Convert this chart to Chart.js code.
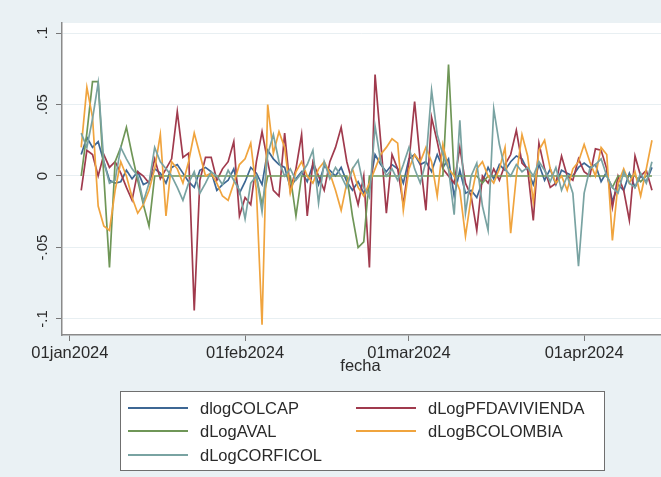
<!DOCTYPE html>
<html>
<head>
<meta charset="utf-8">
<script src="https://cdn.jsdelivr.net/npm/chart.js@4.4.1/dist/chart.umd.min.js"></script>
<style>
html, body { margin: 0; padding: 0; background: #eaf1f4; }
#wrap { width: 661px; height: 477px; position: relative; }
</style>
</head>
<body>
<div id="wrap"><canvas id="c" width="661" height="477"></canvas></div>
<script>
// ---- categories (daily dates, 03jan2024 .. 13apr2024) ----
const fechas = [
 '2024-01-03','2024-01-04','2024-01-05','2024-01-06','2024-01-07','2024-01-08','2024-01-09','2024-01-10','2024-01-11','2024-01-12',
 '2024-01-13','2024-01-14','2024-01-15','2024-01-16','2024-01-17','2024-01-18','2024-01-19','2024-01-20','2024-01-21','2024-01-22',
 '2024-01-23','2024-01-24','2024-01-25','2024-01-26','2024-01-27','2024-01-28','2024-01-29','2024-01-30','2024-01-31','2024-02-01',
 '2024-02-02','2024-02-03','2024-02-04','2024-02-05','2024-02-06','2024-02-07','2024-02-08','2024-02-09','2024-02-10','2024-02-11',
 '2024-02-12','2024-02-13','2024-02-14','2024-02-15','2024-02-16','2024-02-17','2024-02-18','2024-02-19','2024-02-20','2024-02-21',
 '2024-02-22','2024-02-23','2024-02-24','2024-02-25','2024-02-26','2024-02-27','2024-02-28','2024-02-29','2024-03-01','2024-03-02',
 '2024-03-03','2024-03-04','2024-03-05','2024-03-06','2024-03-07','2024-03-08','2024-03-09','2024-03-10','2024-03-11','2024-03-12',
 '2024-03-13','2024-03-14','2024-03-15','2024-03-16','2024-03-17','2024-03-18','2024-03-19','2024-03-20','2024-03-21','2024-03-22',
 '2024-03-23','2024-03-24','2024-03-25','2024-03-26','2024-03-27','2024-03-28','2024-03-29','2024-03-30','2024-03-31','2024-04-01',
 '2024-04-02','2024-04-03','2024-04-04','2024-04-05','2024-04-06','2024-04-07','2024-04-08','2024-04-09','2024-04-10','2024-04-11',
 '2024-04-12','2024-04-13'
];

// ---- series values ----
const dlogCOLCAP = [
 0.015, 0.027, 0.020, 0.024, 0.010, -0.003, -0.005, -0.004, 0.004, -0.002,
 0.003, -0.006, -0.004, 0.005, 0.002, -0.005, 0.006, 0.008, 0.002, -0.004,
 -0.008, 0.004, 0.006, 0.003, -0.010, -0.006, -0.003, 0.005, -0.012, -0.004,
 0.006, 0.002, -0.006, 0.018, 0.012, 0.008, 0.006, -0.008, -0.002, 0.003,
 -0.004, 0.008, -0.006, 0.007, 0.004, 0.000, 0.006, -0.004, -0.010, -0.004,
 -0.012, -0.008, 0.015, 0.008, 0.003, 0.008, 0.005, -0.005, 0.012, 0.015,
 0.008, 0.010, 0.003, 0.015, 0.006, 0.012, -0.014, 0.004, -0.012, -0.010,
 -0.015, -0.004, 0.006, -0.002, 0.008, 0.004, 0.010, 0.014, 0.012, 0.004,
 -0.006, 0.008, -0.003, 0.005, -0.006, 0.004, 0.002, 0.000, 0.006, 0.009,
 0.006, 0.008, -0.004, 0.003, -0.018, -0.006, -0.010, 0.002, -0.008, 0.000,
 -0.004, 0.006
];
const dLogPFDAVIVIENDA = [
 -0.010, 0.018, 0.015, 0.000, 0.015, 0.006, 0.010, 0.002, -0.008, -0.017,
 0.003, 0.000, -0.005, 0.012, -0.002, 0.005, 0.012, 0.045, 0.013, 0.016,
 -0.094, -0.003, 0.013, 0.013, -0.003, 0.005, 0.010, 0.024, -0.028, -0.015,
 -0.020, 0.010, 0.031, 0.010, -0.010, -0.014, 0.030, -0.010, 0.005, 0.029,
 -0.028, 0.010, 0.000, -0.010, 0.010, 0.020, 0.034, 0.010, -0.005, -0.020,
 0.000, -0.064, 0.071, 0.024, -0.026, 0.015, 0.005, -0.020, 0.010, 0.052,
 0.010, -0.024, 0.041, 0.024, 0.005, 0.000, -0.005, 0.020, -0.005, -0.014,
 -0.038, 0.000, -0.005, 0.005, -0.003, 0.008, 0.015, 0.032, 0.009, 0.005,
 -0.031, 0.023, 0.005, -0.008, -0.005, 0.014, 0.000, -0.003, 0.012, 0.003,
 0.000, 0.019, 0.018, 0.005, -0.022, 0.000, -0.010, -0.031, 0.014, 0.000,
 0.004, -0.010
];
const dLogAVAL = [
 0.000, 0.030, 0.066, 0.066, 0.000, -0.064, 0.010, 0.020, 0.034, 0.015,
 -0.003, -0.020, -0.035, 0.000, 0.000, 0.000, 0.000, 0.000, 0.000, 0.000,
 0.000, 0.000, 0.000, 0.000, 0.000, 0.000, 0.000, 0.000, 0.000, 0.000,
 0.000, 0.000, -0.020, 0.000, 0.000, 0.000, 0.000, 0.000, -0.028, 0.000,
 0.000, 0.000, 0.000, 0.000, 0.000, 0.000, 0.000, 0.000, -0.028, -0.050,
 -0.046, 0.000, 0.000, 0.000, 0.000, 0.000, 0.000, 0.000, 0.000, 0.000,
 0.000, 0.000, 0.000, 0.000, 0.000, 0.078, 0.000, 0.000, 0.000, 0.000,
 0.000, -0.005, 0.000, 0.000, 0.000, 0.000, 0.000, 0.000, 0.000, 0.000,
 0.000, 0.000, 0.000, 0.000, 0.000, 0.000, 0.000, 0.000, 0.000, 0.000,
 0.000, 0.000, 0.000, 0.000, -0.008, 0.000, 0.000, 0.000, 0.000, -0.004,
 0.000, 0.000
];
const dLogBCOLOMBIA = [
 0.020, 0.062, 0.041, -0.021, -0.035, -0.038, -0.010, 0.010, 0.000, -0.015,
 -0.026, -0.020, -0.010, 0.005, 0.029, -0.028, 0.010, 0.005, -0.005, 0.010,
 0.030, 0.015, 0.000, 0.002, -0.005, -0.014, -0.017, -0.005, 0.008, 0.012,
 0.023, -0.010, -0.104, 0.050, 0.016, 0.031, 0.020, -0.012, 0.003, 0.010,
 0.000, -0.005, 0.005, 0.010, 0.002, -0.010, -0.024, -0.005, 0.005, -0.008,
 -0.014, -0.005, 0.005, 0.015, 0.020, 0.026, 0.023, -0.024, 0.005, 0.015,
 0.010, 0.020, 0.010, -0.014, 0.022, 0.005, 0.000, -0.010, -0.042, -0.015,
 0.005, 0.010, 0.000, -0.005, 0.005, 0.020, -0.040, 0.000, 0.029, 0.014,
 -0.018, 0.018, 0.025, 0.005, -0.005, 0.000, -0.010, 0.005, 0.010, 0.022,
 0.010, 0.000, 0.020, 0.015, -0.045, -0.005, 0.005, -0.005, 0.003, -0.014,
 0.005, 0.025
];
const dLogCORFICOL = [
 0.030, 0.020, 0.040, 0.065, 0.010, -0.005, -0.003, 0.020, 0.012, 0.005,
 0.000, -0.018, -0.005, 0.020, 0.010, 0.005, 0.000, -0.008, -0.017, -0.005,
 0.003, -0.012, -0.005, 0.003, 0.000, -0.006, 0.004, -0.003, -0.010, -0.030,
 -0.005, 0.000, -0.025, 0.015, 0.029, 0.010, 0.000, 0.005, -0.003, 0.002,
 0.008, 0.018, -0.019, 0.010, -0.002, 0.006, 0.000, -0.008, 0.005, 0.011,
 -0.008, -0.015, 0.035, 0.010, 0.000, 0.005, -0.003, 0.008, 0.020, 0.005,
 -0.005, 0.010, 0.060, 0.029, 0.015, 0.005, -0.027, 0.039, -0.026, 0.000,
 0.009, -0.021, -0.038, 0.047, 0.022, 0.005, 0.000, 0.008, 0.003, 0.006,
 0.000, 0.010, 0.004, -0.004, 0.006, -0.010, 0.000, -0.012, -0.063, -0.012,
 0.005, 0.008, 0.012, 0.000, -0.008, -0.012, 0.003, -0.005, -0.008, 0.002,
 -0.005, 0.010
];

// ---- tick labels ----
const yTicks = [-0.1, -0.05, 0, 0.05, 0.1];
const yTickLabels = ['-.1', '-.05', '0', '.05', '.1'];
const xTickDates = ['2024-01-01', '2024-02-01', '2024-03-01', '2024-04-01'];
const xTickLabels = ['01jan2024', '01feb2024', '01mar2024', '01apr2024'];
const xTitle = 'fecha';

const seriesNames = ['dlogCOLCAP', 'dLogPFDAVIVIENDA', 'dLogAVAL', 'dLogBCOLOMBIA', 'dLogCORFICOL'];
const seriesValues = [dlogCOLCAP, dLogPFDAVIVIENDA, dLogAVAL, dLogBCOLOMBIA, dLogCORFICOL];
const seriesColors = ['#3d6794', '#a03a4d', '#6f9657', '#f0a43e', '#79a3a2'];

const FONT = '"Liberation Sans", Arial, sans-serif';
const TEXT = '#2a2a2a';

function dayNum(s) {
  const p = s.split('-').map(Number);
  return (Date.UTC(p[0], p[1] - 1, p[2]) - Date.UTC(2024, 0, 1)) / 86400000;
}

const datasets = seriesNames.map((name, k) => ({
  label: name,
  data: fechas.map((f, i) => ({ x: dayNum(f), y: seriesValues[k][i] })),
  borderColor: seriesColors[k],
  backgroundColor: seriesColors[k],
  borderWidth: 1.7,
  pointRadius: 0,
  tension: 0,
  fill: false,
  order: seriesNames.length - 1 - k
}));

const backgrounds = {
  id: 'backgrounds',
  beforeDraw(chart) {
    const { ctx, chartArea: a } = chart;
    ctx.save();
    ctx.fillStyle = '#eaf1f4';
    ctx.fillRect(0, 0, chart.width, chart.height);
    ctx.fillStyle = '#ffffff';
    ctx.fillRect(a.left, a.top, a.right - a.left, a.bottom - a.top);
    ctx.restore();
  }
};

const extras = {
  id: 'extras',
  afterDraw(chart) {
    const ctx = chart.ctx;
    const ys = chart.scales.y;
    const a = chart.chartArea;
    ctx.save();
    // rotated y tick labels
    ctx.fillStyle = TEXT;
    ctx.font = '15px ' + FONT;
    ctx.textAlign = 'center';
    ctx.textBaseline = 'middle';
    yTicks.forEach((v, i) => {
      const py = ys.getPixelForValue(v);
      ctx.save();
      ctx.translate(43, py);
      ctx.rotate(-Math.PI / 2);
      ctx.fillText(yTickLabels[i], 0, 0);
      ctx.restore();
    });
    // x axis title
    ctx.font = '16.5px ' + FONT;
    ctx.fillText(xTitle, (a.left + a.right) / 2 - 1, 366);
    // legend box
    const bx = 120, by = 391, bw = 484, bh = 79;
    ctx.fillStyle = '#ffffff';
    ctx.fillRect(bx, by, bw, bh);
    ctx.strokeStyle = '#6f6f6f';
    ctx.lineWidth = 1;
    ctx.strokeRect(bx + 0.5, by + 0.5, bw, bh);
    const cols = [[128, 188, 200], [356, 416, 428]];
    const rows = [408, 431, 455];
    ctx.font = '16.5px ' + FONT;
    ctx.textAlign = 'left';
    chart.data.datasets.forEach((ds, i) => {
      const c = cols[i % 2];
      const r = rows[Math.floor(i / 2)];
      ctx.strokeStyle = ds.borderColor;
      ctx.lineWidth = 2;
      ctx.beginPath();
      ctx.moveTo(c[0], r);
      ctx.lineTo(c[1], r);
      ctx.stroke();
      ctx.fillStyle = TEXT;
      ctx.fillText(ds.label, c[2], r + 1);
    });
    ctx.restore();
  }
};

new Chart(document.getElementById('c'), {
  type: 'line',
  data: { datasets },
  plugins: [backgrounds, extras],
  options: {
    responsive: false,
    animation: false,
    devicePixelRatio: 1,
    parsing: false,
    layout: { padding: { top: 23, left: 0, right: 0, bottom: 0 } },
    plugins: { legend: { display: false }, tooltip: { enabled: false } },
    scales: {
      x: {
        type: 'linear',
        min: -1.4,
        max: 104.6,
        afterBuildTicks: s => { s.ticks = xTickDates.map(d => ({ value: dayNum(d) })); },
        afterFit: s => { s.height = 142; },
        grid: { display: true, drawOnChartArea: false, drawTicks: true, tickLength: 6, tickColor: '#777777' },
        border: { display: true, color: '#8a8a8a', width: 1.5 },
        ticks: {
          autoSkip: false, maxRotation: 0, minRotation: 0, padding: 3,
          color: TEXT, font: { family: FONT, size: 16.5 },
          callback: (v) => { const i = xTickDates.findIndex(d => dayNum(d) === v); return i >= 0 ? xTickLabels[i] : ''; }
        }
      },
      y: {
        type: 'linear',
        min: -0.1112,
        max: 0.107,
        afterBuildTicks: s => { s.ticks = yTicks.map(v => ({ value: v })); },
        afterFit: s => { s.width = 62; },
        grid: { display: true, drawOnChartArea: true, drawTicks: true, tickLength: 6, color: '#e8eff2', tickColor: '#777777', lineWidth: 1 },
        border: { display: true, color: '#8a8a8a', width: 1.5 },
        ticks: { display: false }
      }
    }
  }
});
</script>
</body>
</html>
